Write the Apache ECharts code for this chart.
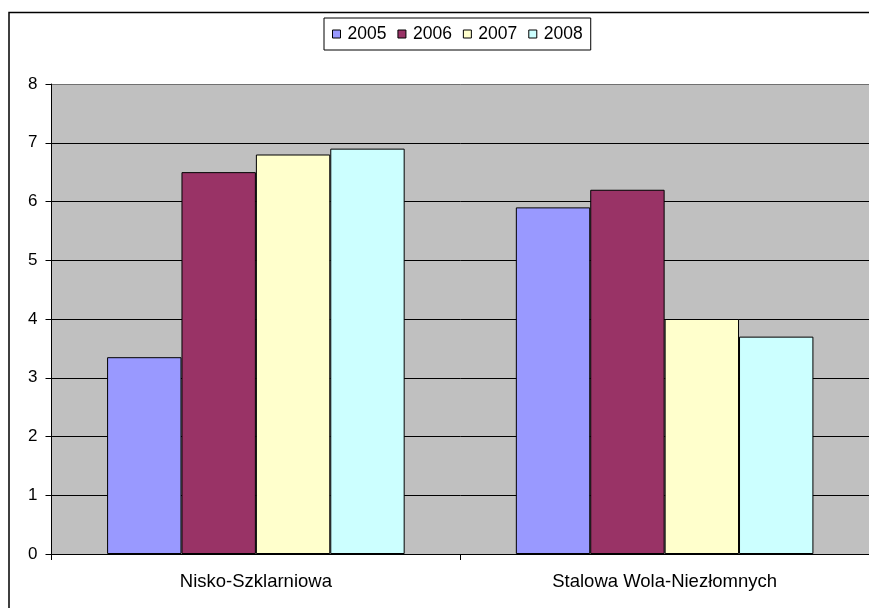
<!DOCTYPE html>
<html>
<head>
<meta charset="utf-8">
<script src="https://cdn.jsdelivr.net/npm/echarts@6/dist/echarts.min.js"></script>
<style>
html,body{margin:0;padding:0;background:#fff;}
#chart{width:869px;height:608px;}
</style>
</head>
<body>
<div id="chart"></div>
<script>
const categories = ['Nisko-Szklarniowa', 'Stalowa Wola-Niezłomnych'];
const seriesNames = ['2005', '2006', '2007', '2008'];
const values2005 = [3.35, 5.9];
const values2006 = [6.5, 6.2];
const values2007 = [6.8, 4.0];
const values2008 = [6.9, 3.7];
const seriesColors = ['#9999FF', '#993366', '#FFFFCC', '#CCFFFF'];
const yTicks = [0, 1, 2, 3, 4, 5, 6, 7, 8];

const seriesValues = [values2005, values2006, values2007, values2008];
const FONT = '"Liberation Sans", Arial, sans-serif';
const chart = echarts.init(document.getElementById('chart'), null, {renderer: 'canvas'});

const splitColors = yTicks.map((t, i) => i === yTicks.length - 1 ? '#707070' : '#000000');

chart.setOption({
  animation: false,
  backgroundColor: '#ffffff',
  graphic: [{
    type: 'rect',
    z: 100,
    silent: true,
    shape: {x: 9, y: 12.5, width: 1000, height: 800},
    style: {fill: 'none', stroke: '#000', lineWidth: 1.5}
  }],
  legend: {
    left: 324,
    top: 18,
    padding: [7, 8, 7, 8],
    borderColor: '#000',
    borderWidth: 1,
    itemWidth: 8,
    itemHeight: 8,
    itemGap: 11,
    icon: 'rect',
    itemStyle: {borderColor: '#000', borderWidth: 1},
    textStyle: {fontFamily: FONT, fontSize: 17.5, color: '#000', padding: [0, 0, 0, 2]},
    data: seriesNames
  },
  grid: {
    left: 51.5,
    top: 84,
    width: 819,
    height: 470,
    show: true,
    backgroundColor: '#C0C0C0',
    borderColor: '#707070',
    borderWidth: 0
  },
  xAxis: {
    type: 'category',
    data: categories,
    axisLine: {show: true, lineStyle: {color: '#000', width: 1}},
    axisTick: {show: true, length: 6, lineStyle: {color: '#000'}},
    axisLabel: {fontFamily: FONT, fontSize: 18.5, color: '#000', margin: 18}
  },
  yAxis: {
    type: 'value',
    min: 0,
    max: 8,
    interval: 1,
    axisLine: {show: true, lineStyle: {color: '#000', width: 1}},
    axisTick: {show: true, length: 6, lineStyle: {color: '#000'}},
    axisLabel: {fontFamily: FONT, fontSize: 17, color: '#000', margin: 14},
    splitLine: {show: true, lineStyle: {color: splitColors, width: 1}}
  },
  series: seriesNames.map((name, i) => ({
    name: name,
    type: 'bar',
    data: seriesValues[i],
    barGap: '0%',
    barCategoryGap: '27.2%',
    itemStyle: {color: seriesColors[i], borderColor: '#000', borderWidth: 1}
  }))
});
</script>
</body>
</html>
